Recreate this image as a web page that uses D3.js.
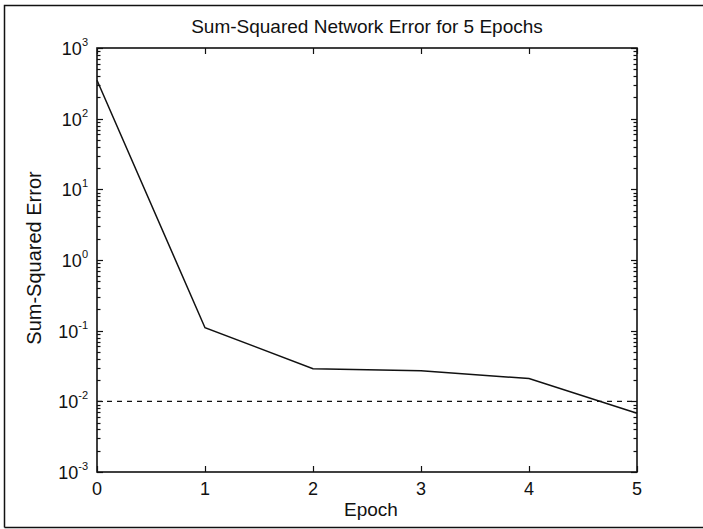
<!DOCTYPE html>
<html>
<head>
<meta charset="utf-8">
<script src="https://cdn.jsdelivr.net/npm/d3@7/dist/d3.min.js"></script>
<style>
  html, body { margin: 0; padding: 0; background: #fff; }
  svg { display: block; }
  text { font-family: "Liberation Sans", Arial, sans-serif; fill: #111; }
</style>
</head>
<body>
<svg id="chart" width="703" height="529"></svg>
<script>
// Training record: sum-squared error after each epoch
const epochs = [0, 1, 2, 3, 4, 5];
const sse = [350, 0.11, 0.029, 0.027, 0.021, 0.0068];
const errorGoal = 0.01;

// Axis ticks
const xTicks = [0, 1, 2, 3, 4, 5];
const yExponents = [3, 2, 1, 0, -1, -2, -3];

const titleText = "Sum-Squared Network Error for 5 Epochs";
const xLabel = "Epoch";
const yLabel = "Sum-Squared Error";

const svg = d3.select("#chart");
const W = 703, H = 529;
const plot = { left: 97, right: 637, top: 48, bottom: 472 };

const x = d3.scaleLinear().domain([0, 5]).range([plot.left, plot.right]);
const y = d3.scaleLog().domain([1e-3, 1e3]).range([plot.bottom, plot.top]);

// Outer figure border
svg.append("path")
  .attr("d", `M4.5,${H - 1.5} L4.5,5.5 L${W},5.5 M4.5,${H - 1.5} L${W},${H - 1.5}`)
  .attr("fill", "none").attr("stroke", "#111").attr("stroke-width", 1.5);

// Minor + major log ticks, drawn on both sides pointing inward
const logTicks = [];
for (let e = -3; e < 3; e++) {
  for (let m = 1; m <= 9; m++) logTicks.push({ v: m * Math.pow(10, e), major: m === 1 });
}
logTicks.push({ v: 1000, major: true });

const g = svg.append("g");
logTicks.forEach(t => {
  const yy = Math.round(y(t.v)) + 0.5;
  const len = t.major ? 6 : 3.5;
  g.append("line").attr("x1", plot.left).attr("x2", plot.left + len)
    .attr("y1", yy).attr("y2", yy).attr("stroke", "#111").attr("stroke-width", 1.2);
  g.append("line").attr("x1", plot.right).attr("x2", plot.right - len)
    .attr("y1", yy).attr("y2", yy).attr("stroke", "#111").attr("stroke-width", 1.2);
});

// X ticks on bottom and top, pointing inward
xTicks.forEach(t => {
  const xx = Math.round(x(t)) + 0.5;
  g.append("line").attr("x1", xx).attr("x2", xx)
    .attr("y1", plot.bottom).attr("y2", plot.bottom - 6).attr("stroke", "#111").attr("stroke-width", 1.2);
  g.append("line").attr("x1", xx).attr("x2", xx)
    .attr("y1", plot.top).attr("y2", plot.top + 6).attr("stroke", "#111").attr("stroke-width", 1.2);
});

// Plot box
svg.append("rect")
  .attr("x", plot.left).attr("y", plot.top)
  .attr("width", plot.right - plot.left).attr("height", plot.bottom - plot.top)
  .attr("fill", "none").attr("stroke", "#111").attr("stroke-width", 1.6);

// Error goal (dashed)
svg.append("line")
  .attr("x1", x(0)).attr("x2", x(5))
  .attr("y1", y(errorGoal)).attr("y2", y(errorGoal))
  .attr("stroke", "#111").attr("stroke-width", 1.4)
  .attr("stroke-dasharray", "5,5");

// Error curve
const line = d3.line().x((d, i) => x(epochs[i])).y(d => y(d));
svg.append("path")
  .datum(sse)
  .attr("d", line)
  .attr("fill", "none").attr("stroke", "#111").attr("stroke-width", 1.5);

// Y tick labels: 10 with superscript exponent
yExponents.forEach(e => {
  const t = svg.append("text")
    .attr("x", plot.left - 9)
    .attr("y", y(Math.pow(10, e)) + 7)
    .attr("text-anchor", "end")
    .attr("font-size", 18);
  t.append("tspan").text("10");
  t.append("tspan").attr("font-size", 11).attr("dy", -9).text(String(e));
});

// X tick labels
xTicks.forEach(t => {
  svg.append("text")
    .attr("x", x(t)).attr("y", 495)
    .attr("text-anchor", "middle").attr("font-size", 18)
    .text(t);
});

// Title and axis labels
svg.append("text")
  .attr("x", 367).attr("y", 33)
  .attr("text-anchor", "middle").attr("font-size", 19)
  .text(titleText);

svg.append("text")
  .attr("x", 371).attr("y", 516)
  .attr("text-anchor", "middle").attr("font-size", 19)
  .text(xLabel);

svg.append("text")
  .attr("transform", "translate(41,258) rotate(-90)")
  .attr("text-anchor", "middle").attr("font-size", 20)
  .text(yLabel);
</script>
</body>
</html>
